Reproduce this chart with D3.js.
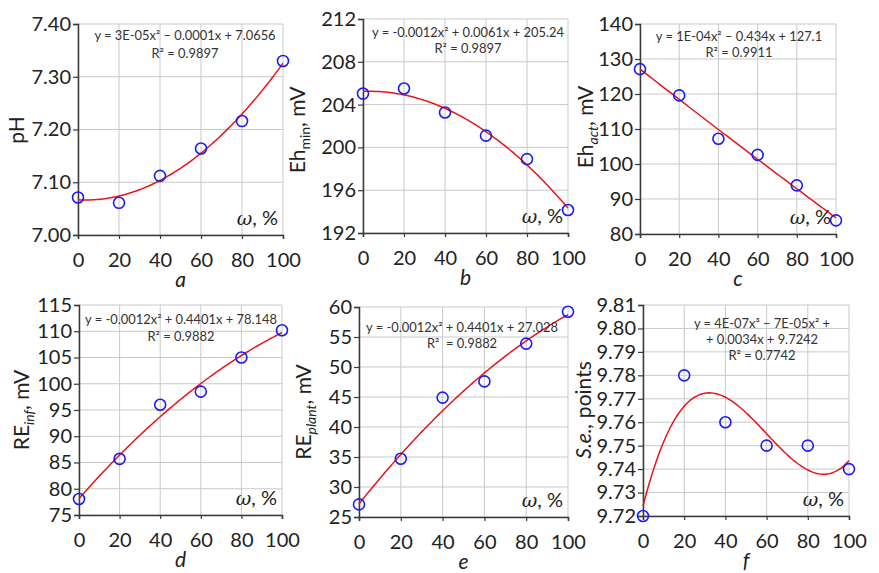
<!DOCTYPE html>
<html><head><meta charset="utf-8">
<script src="https://cdn.jsdelivr.net/npm/d3@7/dist/d3.min.js"></script>
<style>
html,body{margin:0;padding:0;background:#fff;}
svg{display:block;font-family:Lato,"Open Sans",sans-serif;}
text,tspan{white-space:pre;}
</style></head>
<body>
<svg id="chart" width="879" height="573"></svg>
<script>
// ---- data ----
const omega = [0, 20, 40, 60, 80, 100];
const pH = [7.071, 7.061, 7.112, 7.164, 7.216, 7.330];
const ehMin = [205.03, 205.5, 203.26, 201.1, 198.9, 194.15];
const ehAct = [127.1, 119.6, 107.2, 102.6, 93.9, 83.9];
const reInf = [78.05, 85.7, 96.0, 98.5, 105.0, 110.2];
const rePlant = [27.1, 34.7, 44.9, 47.6, 53.9, 59.2];
const se = [9.72, 9.78, 9.76, 9.75, 9.75, 9.74];

const xTicks = [0, 20, 40, 60, 80, 100];
const ticksA = [7.00, 7.10, 7.20, 7.30, 7.40];
const ticksB = [192, 196, 200, 204, 208, 212];
const ticksC = [80, 90, 100, 110, 120, 130, 140];
const ticksD = [75, 80, 85, 90, 95, 100, 105, 110, 115];
const ticksE = [25, 30, 35, 40, 45, 50, 55, 60];
const ticksF = [9.72, 9.73, 9.74, 9.75, 9.76, 9.77, 9.78, 9.79, 9.80, 9.81];

const eqA = ["y = 3E-05x² – 0.0001x + 7.0656", "R² = 0.9897"];
const eqB = ["y = -0.0012x² + 0.0061x + 205.24", "R² = 0.9897"];
const eqC = ["y = 1E-04x² – 0.434x + 127.1", "R² = 0.9911"];
const eqD = ["y = -0.0012x² + 0.4401x + 78.148", "R² = 0.9882"];
const eqE = ["y = -0.0012x² + 0.4401x + 27.028", "R²  = 0.9882"];
const eqF = ["y = 4E-07x³ – 7E-05x² +", "+ 0.0034x + 9.7242", "R² = 0.7742"];

// ---- layout ----
const panels = [
  {letter:"a", y:pH, ticks:ticksA, fmt:d3.format(".2f"), deg:2, eq:eqA, box:[78,283,24,235],
   eqPos:[185,40,18], yl:{x:17, y:130, parts:[["pH",""]]}},
  {letter:"b", y:ehMin, ticks:ticksB, fmt:d3.format("d"), deg:2, eq:eqB, box:[363,568,19,233],
   eqPos:[468,37,16], yl:{x:298, y:130, parts:[["Eh",""],["min","sub"],[", mV",""]]}},
  {letter:"c", y:ehAct, ticks:ticksC, fmt:d3.format("d"), deg:2, eq:eqC, box:[640,836,24,234],
   eqPos:[739,41,16], yl:{x:586, y:127, parts:[["Eh",""],["act","subi"],[", mV",""]]}},
  {letter:"d", y:reInf, ticks:ticksD, fmt:d3.format("d"), deg:2, eq:eqD, box:[79,282,305,515],
   eqPos:[181,324,17], yl:{x:22, y:410, parts:[["RE",""],["inf","subi"],[", mV",""]]}},
  {letter:"e", y:rePlant, ticks:ticksE, fmt:d3.format("d"), deg:2, eq:eqE, box:[359,568,307,517],
   eqPos:[462,332,16], yl:{x:304, y:412, parts:[["RE",""],["plant","subi"],[", mV",""]]}},
  {letter:"f", y:se, ticks:ticksF, fmt:d3.format(".2f"), deg:3, eq:eqF, box:[643,849,305,516],
   eqPos:[762,328,16], yl:{x:584, y:410, parts:[["S.e.,","i"],["\u00A0points",""]]}}
];

// least-squares polynomial fit
function polyfit(xs, ys, deg){
  const n = deg + 1;
  const A = Array.from({length:n}, () => new Array(n + 1).fill(0));
  for (let r = 0; r < n; r++){
    for (let c = 0; c < n; c++) A[r][c] = d3.sum(xs, x => Math.pow(x, r + c));
    A[r][n] = d3.sum(xs, (x, i) => Math.pow(x, r) * ys[i]);
  }
  for (let i = 0; i < n; i++){
    let p = i;
    for (let k = i + 1; k < n; k++) if (Math.abs(A[k][i]) > Math.abs(A[p][i])) p = k;
    [A[i], A[p]] = [A[p], A[i]];
    for (let k = i + 1; k < n; k++){
      const f = A[k][i] / A[i][i];
      for (let j = i; j <= n; j++) A[k][j] -= f * A[i][j];
    }
  }
  const c = new Array(n).fill(0);
  for (let i = n - 1; i >= 0; i--){
    let s = A[i][n];
    for (let j = i + 1; j < n; j++) s -= A[i][j] * c[j];
    c[i] = s / A[i][i];
  }
  return x => c.reduce((acc, ci, i) => acc + ci * Math.pow(x, i), 0);
}

const svg = d3.select("#chart");
const gridColor = "#c9c9c9", axisColor = "#3a3a3a", textColor = "#222";

panels.forEach(p => {
  const [x0, x1, y0, y1] = p.box;
  const x = d3.scaleLinear().domain([0, 100]).range([x0, x1]);
  const y = d3.scaleLinear().domain([p.ticks[0], p.ticks[p.ticks.length - 1]]).range([y1, y0]);
  const g = svg.append("g");

  // grid
  g.append("g").selectAll("line.v").data(xTicks).join("line")
    .attr("x1", d => x(d)).attr("x2", d => x(d)).attr("y1", y0).attr("y2", y1)
    .attr("stroke", gridColor).attr("stroke-width", 1);
  g.append("g").selectAll("line.h").data(p.ticks).join("line")
    .attr("x1", x0).attr("x2", x1).attr("y1", d => y(d)).attr("y2", d => y(d))
    .attr("stroke", gridColor).attr("stroke-width", 1);

  // axes
  const ax = g.append("g").attr("transform", `translate(0,${y1})`)
    .call(d3.axisBottom(x).tickValues(xTicks).tickSize(4).tickPadding(14).tickFormat(d3.format("d")));
  const ay = g.append("g").attr("transform", `translate(${x0},0)`)
    .call(d3.axisLeft(y).tickValues(p.ticks).tickSize(5).tickPadding(2).tickFormat(p.fmt));
  [ax, ay].forEach(a => {
    a.select(".domain").attr("stroke", axisColor).attr("stroke-width", 1.5);
    a.selectAll(".tick line").attr("stroke", axisColor).attr("stroke-width", 1.2);
    a.selectAll(".tick text").attr("fill", textColor).style("font-size", "20px").style("font-family", "Lato");
  });

  // trend curve
  const f = polyfit(omega, p.y, p.deg);
  const xs = d3.range(0, 100.5, 1);
  g.append("path").datum(xs)
    .attr("d", d3.line().x(d => x(d)).y(d => y(f(d))).curve(d3.curveLinear))
    .attr("fill", "none").attr("stroke", "#e8141c").attr("stroke-width", 1.5);

  // points
  g.append("g").selectAll("circle").data(omega).join("circle")
    .attr("cx", d => x(d)).attr("cy", (d, i) => y(p.y[i])).attr("r", 5.5)
    .attr("fill", "none").attr("stroke", "#1c1cf0").attr("stroke-width", 1.6);

  // equation
  const [ex, ey, eg] = p.eqPos;
  p.eq.forEach((line, i) => {
    g.append("text").attr("x", ex).attr("y", ey + i * eg).attr("text-anchor", "middle")
      .attr("fill", "#333").style("font-size", "12.9px").text(line);
  });

  // omega label
  const ol = g.append("text").attr("x", x1 - 5).attr("y", y1 - 10).attr("text-anchor", "end")
    .attr("fill", textColor).style("font-size", "20px");
  ol.append("tspan").style("font-family", "'DejaVu Serif','Liberation Serif',serif").style("font-style", "italic").style("font-size", "19px").text("ω");
  ol.append("tspan").text(", %");

  // panel letter
  const rowBase = y1 + 52;
  g.append("text").attr("x", (x0 + x1) / 2).attr("y", rowBase).attr("text-anchor", "middle")
    .attr("fill", textColor).style("font-size", "21px").style("font-style", "italic").text(p.letter);

  // y label
  const yl = g.append("text").attr("transform", `translate(${p.yl.x + 7},${p.yl.y}) rotate(-90)`)
    .attr("text-anchor", "middle").attr("fill", textColor).style("font-size", "21px");
  let prevSub = false;
  p.yl.parts.forEach(([t, kind]) => {
    const ts = yl.append("tspan").text(t);
    const isSub = kind === "sub" || kind === "subi";
    if (isSub) {
      ts.style("font-size", "14px").attr("dy", 5);
      if (kind === "subi") ts.style("font-style", "italic");
    } else {
      if (kind === "i") ts.style("font-style", "italic");
      if (prevSub) ts.attr("dy", -5);
    }
    prevSub = isSub;
  });
});
</script>
</body></html>
